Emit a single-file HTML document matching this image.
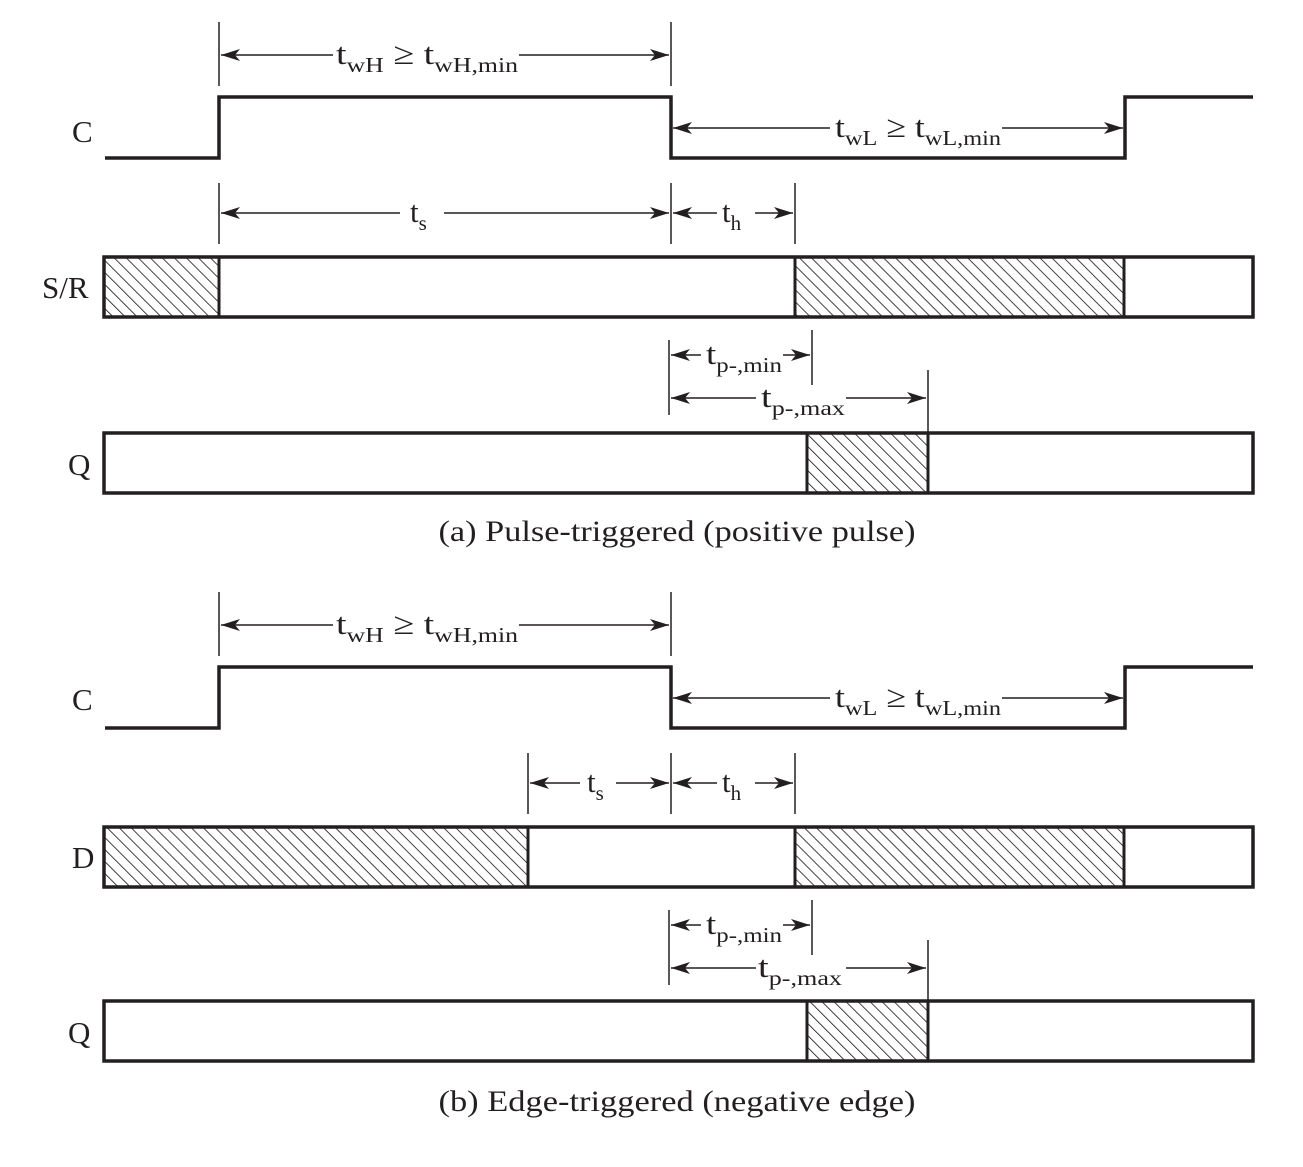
<!DOCTYPE html>
<html><head><meta charset="utf-8"><style>
html,body{margin:0;padding:0;background:#fff;}
svg{display:block;}
text{font-family:"Liberation Serif",serif;fill:#231f20;}
</style></head><body>
<svg width="1303" height="1167" viewBox="0 0 1303 1167" xmlns="http://www.w3.org/2000/svg">
<defs>
<pattern id="h" patternUnits="userSpaceOnUse" width="8.5" height="8.5" patternTransform="rotate(-45)">
<rect width="8.5" height="8.5" fill="#fff"/>
<line x1="0" y1="0" x2="0" y2="8.5" stroke="#231f20" stroke-width="1.7"/>
</pattern>
<marker id="ae" markerWidth="20" markerHeight="14" refX="19" refY="7" orient="auto" markerUnits="userSpaceOnUse">
<path d="M0,1 L19,7 L0,13 L5,7 Z" fill="#231f20"/>
</marker>
<marker id="as" markerWidth="20" markerHeight="14" refX="1" refY="7" orient="auto" markerUnits="userSpaceOnUse">
<path d="M20,1 L1,7 L20,13 L15,7 Z" fill="#231f20"/>
</marker>
</defs>

<g stroke="#231f20" fill="none">
<!-- ===== Panel (a) ===== -->
<g stroke-width="1.5">
<line x1="219" y1="22" x2="219" y2="86"/><line x1="671" y1="22" x2="671" y2="86"/>
<line x1="219" y1="183" x2="219" y2="244"/><line x1="671" y1="183" x2="671" y2="244"/><line x1="795" y1="183" x2="795" y2="244"/>
<line x1="669" y1="340" x2="669" y2="415"/><line x1="812" y1="330" x2="812" y2="385"/><line x1="928" y1="370" x2="928" y2="432"/>
</g>
<g stroke-width="1.6" marker-start="url(#as)" marker-end="url(#ae)">
<line x1="221" y1="55" x2="669" y2="55"/>
<line x1="673" y1="128" x2="1123" y2="128"/>
<line x1="221" y1="213" x2="669" y2="213"/>
<line x1="673" y1="213" x2="793" y2="213"/>
<line x1="671" y1="355" x2="810" y2="355"/>
<line x1="671" y1="398" x2="926" y2="398"/>
</g>
<polyline stroke-width="3.5" points="105,158 219,158 219,97 671,97 671,158 1125,158 1125,97 1253,97"/>
<rect x="104" y="257" width="115" height="60" fill="url(#h)" stroke="none"/>
<rect x="795" y="257" width="329" height="60" fill="url(#h)" stroke="none"/>
<rect x="104" y="257" width="1149" height="60" stroke-width="3.5"/>
<line x1="219" y1="257" x2="219" y2="317" stroke-width="3"/>
<line x1="795" y1="257" x2="795" y2="317" stroke-width="3"/>
<line x1="1124" y1="257" x2="1124" y2="317" stroke-width="3"/>
<rect x="807" y="433" width="121" height="60" fill="url(#h)" stroke="none"/>
<rect x="104" y="433" width="1149" height="60" stroke-width="3.5"/>
<line x1="807" y1="433" x2="807" y2="493" stroke-width="3"/>
<line x1="928" y1="433" x2="928" y2="493" stroke-width="3"/>

<!-- ===== Panel (b) ===== -->
<g stroke-width="1.5">
<line x1="219" y1="592" x2="219" y2="656"/><line x1="671" y1="592" x2="671" y2="656"/>
<line x1="528" y1="753" x2="528" y2="814"/><line x1="671" y1="753" x2="671" y2="814"/><line x1="795" y1="753" x2="795" y2="814"/>
<line x1="669" y1="910" x2="669" y2="985"/><line x1="812" y1="900" x2="812" y2="955"/><line x1="928" y1="940" x2="928" y2="1002"/>
</g>
<g stroke-width="1.6" marker-start="url(#as)" marker-end="url(#ae)">
<line x1="221" y1="625" x2="669" y2="625"/>
<line x1="673" y1="698" x2="1123" y2="698"/>
<line x1="530" y1="783" x2="669" y2="783"/>
<line x1="673" y1="783" x2="793" y2="783"/>
<line x1="671" y1="925" x2="810" y2="925"/>
<line x1="671" y1="968" x2="926" y2="968"/>
</g>
<polyline stroke-width="3.5" points="105,728 219,728 219,667 671,667 671,728 1125,728 1125,667 1253,667"/>
<rect x="104" y="827" width="424" height="60" fill="url(#h)" stroke="none"/>
<rect x="795" y="827" width="329" height="60" fill="url(#h)" stroke="none"/>
<rect x="104" y="827" width="1149" height="60" stroke-width="3.5"/>
<line x1="528" y1="827" x2="528" y2="887" stroke-width="3"/>
<line x1="795" y1="827" x2="795" y2="887" stroke-width="3"/>
<line x1="1124" y1="827" x2="1124" y2="887" stroke-width="3"/>
<rect x="807" y="1001" width="121" height="60" fill="url(#h)" stroke="none"/>
<rect x="104" y="1001" width="1149" height="60" stroke-width="3.5"/>
<line x1="807" y1="1001" x2="807" y2="1061" stroke-width="3"/>
<line x1="928" y1="1001" x2="928" y2="1061" stroke-width="3"/>
</g>

<!-- white gaps behind labels -->
<g fill="#fff">
<rect x="333" y="42" width="186" height="26"/>
<rect x="830" y="115" width="172" height="26"/>
<rect x="400" y="200" width="44" height="26"/>
<rect x="717" y="200" width="38" height="26"/>
<rect x="701" y="342" width="82" height="26"/>
<rect x="756" y="385" width="90" height="26"/>
<rect x="333" y="612" width="186" height="26"/>
<rect x="830" y="685" width="172" height="26"/>
<rect x="580" y="770" width="36" height="26"/>
<rect x="717" y="770" width="38" height="26"/>
<rect x="701" y="912" width="82" height="26"/>
<rect x="756" y="955" width="90" height="26"/>
</g>

<!-- Labels (a) -->
<g font-size="31">
<text x="72" y="142">C</text>
<text x="42" y="298">S/R</text>
<text x="68" y="475">Q</text>
<text x="336" y="64" textLength="182" lengthAdjust="spacingAndGlyphs">t<tspan font-size="21" dy="8">wH</tspan><tspan dy="-8"> ≥ t</tspan><tspan font-size="21" dy="8">wH,min</tspan></text>
<text x="835" y="137" textLength="166" lengthAdjust="spacingAndGlyphs">t<tspan font-size="21" dy="8">wL</tspan><tspan dy="-8"> ≥ t</tspan><tspan font-size="21" dy="8">wL,min</tspan></text>
<text x="410" y="222">t<tspan font-size="21" dy="8">s</tspan></text>
<text x="722" y="222">t<tspan font-size="21" dy="8">h</tspan></text>
<text x="706" y="364" textLength="76" lengthAdjust="spacingAndGlyphs">t<tspan font-size="21" dy="8">p-,min</tspan></text>
<text x="761" y="407" textLength="84" lengthAdjust="spacingAndGlyphs">t<tspan font-size="21" dy="8">p-,max</tspan></text>
<text x="677" y="541" font-size="30" text-anchor="middle" textLength="477" lengthAdjust="spacingAndGlyphs">(a) Pulse-triggered (positive pulse)</text>
</g>
<!-- Labels (b) -->
<g font-size="31">
<text x="72" y="710">C</text>
<text x="72" y="868">D</text>
<text x="68" y="1043">Q</text>
<text x="336" y="634" textLength="182" lengthAdjust="spacingAndGlyphs">t<tspan font-size="21" dy="8">wH</tspan><tspan dy="-8"> ≥ t</tspan><tspan font-size="21" dy="8">wH,min</tspan></text>
<text x="835" y="707" textLength="166" lengthAdjust="spacingAndGlyphs">t<tspan font-size="21" dy="8">wL</tspan><tspan dy="-8"> ≥ t</tspan><tspan font-size="21" dy="8">wL,min</tspan></text>
<text x="587" y="792">t<tspan font-size="21" dy="8">s</tspan></text>
<text x="722" y="792">t<tspan font-size="21" dy="8">h</tspan></text>
<text x="706" y="934" textLength="76" lengthAdjust="spacingAndGlyphs">t<tspan font-size="21" dy="8">p-,min</tspan></text>
<text x="758" y="977" textLength="84" lengthAdjust="spacingAndGlyphs">t<tspan font-size="21" dy="8">p-,max</tspan></text>
<text x="677" y="1111" font-size="30" text-anchor="middle" textLength="477" lengthAdjust="spacingAndGlyphs">(b) Edge-triggered (negative edge)</text>
</g>
</svg>
</body></html>
